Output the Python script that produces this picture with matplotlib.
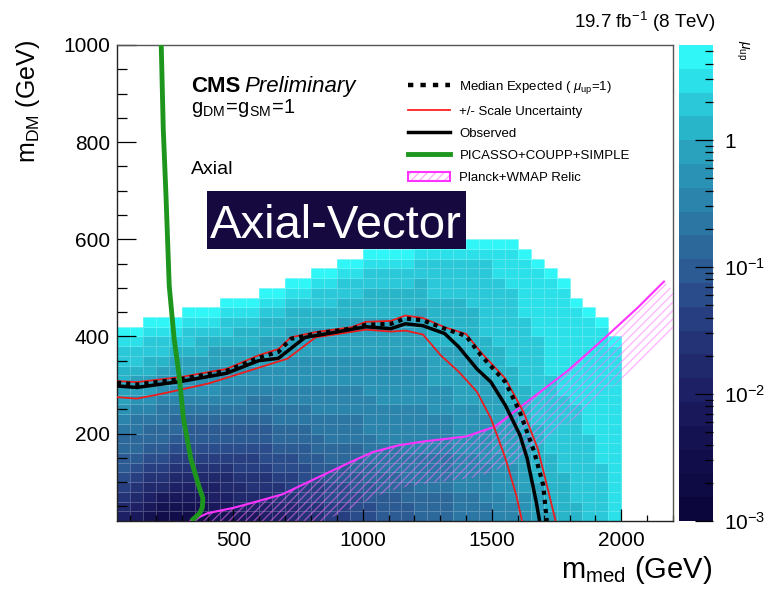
import numpy as np
import matplotlib.pyplot as plt
from matplotlib.colors import ListedColormap, LogNorm
from matplotlib.patches import Patch, Polygon, Rectangle
from matplotlib.lines import Line2D
from matplotlib.legend_handler import HandlerTuple
from matplotlib.ticker import MultipleLocator, LogLocator, NullFormatter

plt.rcParams['font.family'] = ['Liberation Sans', 'DejaVu Sans']
plt.rcParams['mathtext.fontset'] = 'custom'
plt.rcParams['mathtext.rm'] = 'Liberation Sans'
plt.rcParams['mathtext.it'] = 'Liberation Sans:italic'
plt.rcParams['mathtext.bf'] = 'Liberation Sans:bold'
plt.rcParams['hatch.linewidth'] = 1.0

# --- mu_up map: 50 GeV (m_med) x 20 GeV (m_DM) bins ---
# one string per m_med column, bottom -> top, each char = colour band 0..19
x_edges = np.arange(50, 2001, 50)
y_edges = np.arange(20, 621, 20)
band_codes = "0123456789abcdefghij"
mu_columns = [
    "56789aabbcdeffgghhij",
    "456789abbccdeffghhij",
    "3456789abbcdeffgghhij",
    "2346789abbccdeefghhij",
    "23456789abbcdeeffghij",
    "23456789aabcdeeffghhij",
    "23456789aabcdeeffgghij",
    "34556789aabcdeeeffghij",
    "34566789aabcddeeffghhij",
    "45667889aabcddeeffgghij",
    "45677889aabccdeeffgghij",
    "55677899aabccdeefffgghij",
    "5677899abbccddeefffgghij",
    "6678899abbccddeeefffgghij",
    "778899aabbccddeeefffgghij",
    "77889aabbccdddeeefffgghhij",
    "8899aabbcccdddeeefffgghhij",
    "8899aabbcccdddeeeffffgghhij",
    "999aabbbcccdddeeeffffgghhij",
    "99aabbcccddddeeeeffffggghhij",
    "aaabbcccddddeeeeeffffggghhij",
    "aaabbcccddddeeeeeffffggghhij",
    "aabbcccdddddeeeeeffffggghhij",
    "bbbccccdddddeeeeefffffggghhij",
    "bbbccccddddeeeffffggggghhhhij",
    "bbbccccddddeeeffffggggghhhhij",
    "cccddddeeeeeffffffggggghhhhij",
    "cccddddeeeeefffffggggghhhhhij",
    "ccddddeeeeeffffgggghhhhhhhhij",
    "dddeeeefffffffgggghhhhhhhiiij",
    "ddeeeeffffffgggghhhhhhhhiiiij",
    "eeeffffffggggghhhhhhhiiiiiij",
    "ffffgggggghhhhhhhhhiiiiiiij",
    "fgggggghhhhhhhhiiiiiiiiiij",
    "ggggghhhhhhhhiiiiiiiiiiij",
    "gghhhhhhhhhhiiiiiiiiiij",
    "hhhhhhhhhiiiiiiiiiiiij",
    "hhhhhhiiiiiiiiiiiiiij",
    "iiiiiiiiiiiiiiiiiij",
]
z_min, z_max = 1e-3, 5.6
band_colors = ['#0b073c', '#0e0a43', '#110d4a', '#151252', '#19185b',
               '#1d2064', '#21296d', '#243376', '#273f80', '#2a4c8a',
               '#2c5a93', '#2d689b', '#2c76a4', '#2b84ac', '#2a92b4',
               '#2aa2bd', '#28b4c9', '#2ac8d8', '#2ce0ea', '#30f6f8']

# --- limit contours (m_med, m_DM) in GeV ---
obs_x = [50, 127, 293, 473, 597, 674, 777, 888, 1012, 1109, 1165, 1233, 1317, 1372, 1442, 1496, 1552, 1608, 1636, 1671, 1684]
obs_y = [298, 295, 307, 324, 350, 355, 398, 408, 420, 416, 426, 422, 406, 378, 333, 306, 258, 197, 149, 60, 20]
exp_x = [50, 127, 293, 473, 597, 674, 722, 818, 957, 1012, 1109, 1165, 1233, 1317, 1400, 1456, 1552, 1608, 1663, 1698, 1712]
exp_y = [305, 301, 312, 329, 356, 368, 395, 406, 416, 424, 426, 437, 433, 416, 401, 362, 306, 244, 163, 94, 20]
up_x = [50, 127, 293, 473, 597, 674, 722, 818, 957, 1012, 1109, 1165, 1233, 1317, 1400, 1456, 1552, 1622, 1677, 1712, 1746]
up_y = [308, 306, 316, 333, 361, 374, 398, 409, 419, 430, 432, 443, 438, 419, 405, 368, 313, 244, 169, 94, 20]
dn_x = [50, 127, 224, 403, 624, 708, 818, 1012, 1109, 1165, 1233, 1302, 1372, 1442, 1496, 1552, 1594, 1616]
dn_y = [275, 272, 282, 303, 340, 354, 398, 414, 410, 412, 404, 361, 327, 286, 231, 149, 73, 20]
pic_x = [221, 229, 240, 252, 271, 290, 307, 335, 365, 382, 380, 370, 337]
pic_y = [1000, 826, 682, 504, 395, 320, 231, 149, 94, 67, 48, 36, 20]
relic_x = [335, 400, 500, 590, 690, 820, 960, 1040, 1140, 1240, 1400, 1510, 1650, 1790, 1930, 2065, 2165]
relic_y = [20, 36, 47, 60, 75, 108, 143, 162, 176, 184, 194, 214, 271, 328, 394, 460, 513]

legend_labels = ['Median Expected ( $\\mu_{\\rm up}$=1)', '+/- Scale Uncertainty', 'Observed',
                 'PICASSO+COUPP+SIMPLE', 'Planck+WMAP Relic']

# --- build the map ---
step = (np.log10(z_max) - np.log10(z_min)) / len(band_colors)
mu = np.full((len(y_edges) - 1, len(x_edges) - 1), np.nan)
for i, col in enumerate(mu_columns):
    for k, ch in enumerate(col):
        mu[k, i] = 10 ** (np.log10(z_min) + (band_codes.index(ch) + 0.5) * step)

W, H = 780, 594
fig = plt.figure(figsize=(W / 100, H / 100), dpi=100)
ax = fig.add_axes([117 / W, 1 - 521 / H, 556 / W, 476 / H])
cax = fig.add_axes([679 / W, 1 - 521 / H, 34 / W, 476 / H])

cmap = ListedColormap(band_colors)
mesh = ax.pcolormesh(x_edges, y_edges, np.ma.masked_invalid(mu), cmap=cmap,
                     norm=LogNorm(z_min, z_max), edgecolors=(1, 1, 1, 0.22), linewidth=0.5)
ax.set_xlim(50, 2200)
ax.set_ylim(20, 1000)

# relic band: hatched strip on the lower-right side of the line
pts = ax.transData.transform(np.column_stack([relic_x, relic_y]))
d = np.gradient(pts, axis=0)
nrm = np.column_stack([d[:, 1], -d[:, 0]])
nrm /= np.hypot(nrm[:, 0], nrm[:, 1])[:, None]
strip = np.vstack([pts, (pts + 42 * nrm)[::-1]])
ax.add_patch(Polygon(ax.transData.inverted().transform(strip), closed=True, fill=False,
                     edgecolor=(1, 0.45, 1, 0.5), hatch='////', linewidth=0, zorder=3))
ax.plot(relic_x, relic_y, color='#ff33ff', lw=1.5, zorder=4)

ax.plot(dn_x, dn_y, color='#ee1c1c', lw=1.3, zorder=5)
ax.plot(up_x, up_y, color='#ee1c1c', lw=1.3, zorder=5)
ax.plot(obs_x, obs_y, color='black', lw=2.5, zorder=6)
ax.plot(exp_x, exp_y, color='black', lw=3, ls=(0, (1, 1.2)), zorder=6)
ax.plot(pic_x, pic_y, color='#1e961e', lw=3.5, zorder=7, solid_capstyle='butt')

ax.xaxis.set_major_locator(MultipleLocator(500))
ax.xaxis.set_minor_locator(MultipleLocator(100))
ax.yaxis.set_major_locator(MultipleLocator(200))
ax.yaxis.set_minor_locator(MultipleLocator(50))
ax.tick_params(axis='both', which='both', direction='in', width=0.9, labelsize=15, colors='black')
ax.tick_params(axis='x', which='major', length=8.6, pad=7)
ax.tick_params(axis='x', which='minor', length=4.3)
ax.tick_params(axis='y', which='major', length=13.5, pad=5)
ax.tick_params(axis='y', which='minor', length=7)
ax.set_yticks([200, 400, 600, 800, 1000])
for s in ax.spines.values():
    s.set_linewidth(1.0)
    s.set_color('#555555')
ax.spines['left'].set_color('#222222')
ax.spines['bottom'].set_color('#222222')

cb = fig.colorbar(mesh, cax=cax)
cb.outline.set_visible(False)
cax.set_yticks([1e-3, 1e-2, 1e-1, 1])
cax.set_yticklabels(['$10^{-3}$', '$10^{-2}$', '$10^{-1}$', '1'])
cax.yaxis.set_minor_locator(LogLocator(base=10, subs=np.arange(2, 10), numticks=20))
cax.yaxis.set_minor_formatter(NullFormatter())
cax.tick_params(which='both', direction='in', width=0.9, labelsize=15, pad=8)
cax.tick_params(which='major', length=13)
cax.tick_params(which='minor', length=6)

handles = [
    Line2D([], [], color='black', lw=3.2, ls=(0, (1.2, 1.6))),
    Line2D([], [], color='#ff2020', lw=1.3),
    Line2D([], [], color='black', lw=2.5),
    Line2D([], [], color='#1e961e', lw=3.5),
    (Patch(facecolor='none', edgecolor='#ffb0ff', hatch='////', lw=0),
     Patch(facecolor='none', edgecolor='#ff33ff', lw=1.5)),
]
ax.legend(handles, legend_labels, loc='upper left', bbox_to_anchor=(408 / W, 1 - 79 / H),
          bbox_transform=fig.transFigure, frameon=False, fontsize=9.5, handlelength=3.2,
          handletextpad=0.7, labelspacing=0.74, borderpad=0, borderaxespad=0,
          handler_map={tuple: HandlerTuple(ndivide=1, pad=0)})

def px(x, y):
    return x / W, 1 - y / H

fig.text(*px(191, 92), 'CMS', fontsize=16, fontweight='bold', va='baseline')
fig.text(*px(244, 92), 'Preliminary', fontsize=16, style='italic', va='baseline')
fig.text(*px(191, 113), '$\\mathrm{g_{DM}\\!=\\!g_{SM}\\!=\\!1}$', fontsize=14.5, va='baseline')
fig.text(*px(191, 174), 'Axial', fontsize=14, va='baseline')
fig.add_artist(Rectangle(px(207, 249), 259 / W, 58 / H, transform=fig.transFigure,
                         facecolor='#15093f', edgecolor='none', zorder=8))
fig.text(*px(336, 238), 'Axial-Vector', fontsize=34, color='white', ha='center',
         va='baseline', zorder=9)

fig.text(*px(716, 28), '19.7 fb$^{-1}$ (8 TeV)', fontsize=13.5, ha='right', va='baseline')
fig.text(*px(28, 40), '$\\mathrm{m_{DM}}$ (GeV)', fontsize=18, rotation=90, ha='center', va='top')
fig.text(*px(712, 578), '$\\mathrm{m_{med}}$ (GeV)', fontsize=21, ha='right', va='baseline')
fig.text(*px(742, 40), '$\\mu_{\\rm up}$', fontsize=10, rotation=-90, ha='center', va='top')

fig.savefig('out.png', dpi=100, facecolor='white')
